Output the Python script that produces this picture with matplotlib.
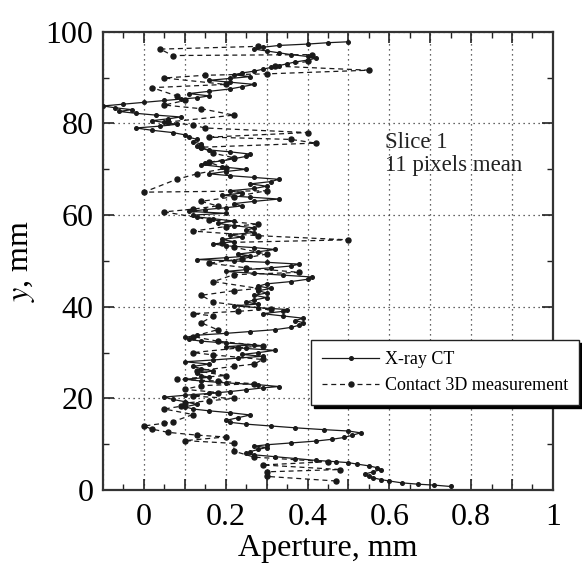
import matplotlib
matplotlib.use("Agg")
import matplotlib.pyplot as plt
from matplotlib.ticker import MultipleLocator, FuncFormatter

plt.rcParams['font.family'] = ['Liberation Serif', 'DejaVu Serif']
plt.rcParams['mathtext.fontset'] = 'stix'

# X-ray CT aperture profile (y in mm, aperture in mm)
ct_y = [0.8, 1.1, 1.3, 1.6, 2.0, 2.3, 2.7, 3.1, 3.5, 4.0, 4.5, 4.9, 5.3, 5.7, 6.0, 6.2, 6.5, 6.9, 7.3, 7.7,
        8.0, 8.4, 8.9, 9.3, 9.6, 9.9, 10.3, 10.7, 11.1, 11.5, 12.0, 12.5, 12.9, 13.2, 13.6, 14.0, 14.4, 14.8, 15.2, 15.8,
        16.4, 16.9, 17.3, 17.7, 18.2, 18.7, 19.3, 19.8, 20.3, 20.7, 21.1, 21.5, 21.9, 22.3, 22.6, 23.0, 23.4, 23.8, 24.2, 24.6,
        25.0, 25.5, 26.0, 26.5, 27.0, 27.5, 28.0, 28.4, 28.8, 29.2, 29.6, 30.0, 30.5, 30.9, 31.3, 31.7, 32.1, 32.5, 32.9, 33.3,
        33.8, 34.2, 34.6, 35.0, 35.5, 36.0, 36.5, 37.0, 37.5, 38.0, 38.5, 39.0, 39.4, 39.8, 40.2, 40.6, 41.0, 41.5, 42.0, 42.5,
        43.0, 43.5, 44.0, 44.5, 45.0, 45.5, 46.0, 46.5, 46.9, 47.3, 47.7, 48.1, 48.5, 48.9, 49.3, 49.7, 50.0, 50.3, 50.7, 51.1,
        51.5, 52.0, 52.5, 52.9, 53.3, 53.7, 54.2, 54.7, 55.2, 55.7, 56.2, 56.7, 57.2, 57.7, 58.2, 58.7, 59.2, 59.6, 60.0, 60.4,
        60.8, 61.2, 61.6, 62.0, 62.5, 63.0, 63.5, 63.9, 64.3, 64.8, 65.3, 65.8, 66.3, 66.8, 67.3, 67.8, 68.2, 68.6, 69.0, 69.5,
        70.0, 70.5, 71.0, 71.4, 71.8, 72.3, 72.8, 73.3, 73.8, 74.2, 74.6, 75.0, 75.5, 76.0, 76.5, 77.0, 77.5, 78.0, 78.5, 79.0,
        79.4, 79.8, 80.2, 80.6, 81.0, 81.4, 81.8, 82.2, 82.6, 83.0, 83.4, 83.8, 84.2, 84.6, 85.0, 85.3, 85.6, 86.0, 86.5, 87.0,
        87.5, 88.0, 88.5, 89.0, 89.4, 89.8, 90.2, 90.6, 91.0, 91.4, 91.8, 92.2, 92.6, 93.0, 93.4, 93.8, 94.2, 94.6, 95.0, 95.4,
        95.8, 96.2, 96.6, 97.0, 97.3, 97.6, 97.8]
ct_ap = [0.75, 0.71, 0.67, 0.63, 0.60, 0.58, 0.56, 0.55, 0.54, 0.56, 0.58, 0.57, 0.55, 0.52, 0.50, 0.47, 0.42, 0.37, 0.32, 0.27,
         0.25, 0.26, 0.28, 0.30, 0.27, 0.30, 0.36, 0.42, 0.46, 0.49, 0.51, 0.53, 0.50, 0.44, 0.37, 0.31, 0.25, 0.21, 0.20, 0.23,
         0.26, 0.21, 0.16, 0.12, 0.10, 0.13, 0.10, 0.07, 0.05, 0.10, 0.16, 0.21, 0.25, 0.29, 0.33, 0.28, 0.20, 0.14, 0.10, 0.16,
         0.14, 0.13, 0.17, 0.14, 0.12, 0.16, 0.10, 0.17, 0.23, 0.29, 0.24, 0.28, 0.32, 0.25, 0.20, 0.27, 0.20, 0.14, 0.11, 0.10,
         0.13, 0.20, 0.26, 0.32, 0.36, 0.38, 0.39, 0.37, 0.39, 0.34, 0.29, 0.34, 0.35, 0.28, 0.22, 0.28, 0.25, 0.27, 0.30, 0.27,
         0.30, 0.28, 0.31, 0.28, 0.30, 0.36, 0.40, 0.41, 0.34, 0.27, 0.20, 0.25, 0.31, 0.36, 0.38, 0.30, 0.22, 0.13, 0.20, 0.26,
         0.23, 0.28, 0.32, 0.27, 0.20, 0.17, 0.22, 0.19, 0.24, 0.21, 0.27, 0.25, 0.27, 0.22, 0.18, 0.22, 0.17, 0.13, 0.12, 0.20,
         0.11, 0.15, 0.20, 0.24, 0.22, 0.27, 0.33, 0.26, 0.19, 0.24, 0.21, 0.27, 0.30, 0.26, 0.31, 0.33, 0.27, 0.21, 0.16, 0.20,
         0.25, 0.19, 0.14, 0.15, 0.19, 0.22, 0.25, 0.26, 0.21, 0.16, 0.14, 0.13, 0.14, 0.12, 0.13, 0.11, 0.10, 0.07, 0.02, -0.02,
         0.04, 0.08, 0.05, 0.02, 0.06, 0.09, 0.03, -0.02, -0.06, -0.03, -0.07, -0.10, -0.05, 0.00, 0.05, 0.09, 0.13, 0.16, 0.11, 0.16,
         0.21, 0.24, 0.27, 0.21, 0.16, 0.21, 0.26, 0.22, 0.24, 0.27, 0.29, 0.31, 0.33, 0.35, 0.37, 0.40, 0.42, 0.40, 0.36, 0.33,
         0.30, 0.27, 0.29, 0.33, 0.40, 0.45, 0.50]

# Contact 3D measurement profile
c3d_y = [2.0, 3.0, 4.0, 4.5, 5.5, 6.2, 7.2, 8.5, 10.2, 10.8, 11.6, 12.0, 12.6, 13.3, 14.0, 14.6, 14.9, 16.5, 17.7, 18.3,
         19.0, 19.5, 20.0, 20.5, 21.3, 22.0, 22.8, 23.2, 23.8, 24.2, 25.0, 26.0, 27.0, 27.5, 28.5, 29.5, 30.0, 31.0, 31.5, 32.5,
         33.5, 35.0, 36.5, 38.0, 38.5, 39.0, 39.5, 41.0, 42.5, 43.5, 44.0, 45.5, 47.0, 47.5, 48.5, 49.5, 50.5, 51.5, 53.0, 54.0,
         54.6, 55.5, 56.5, 57.5, 58.0, 59.0, 60.7, 61.3, 62.0, 63.0, 64.0, 65.3, 65.0, 67.8, 69.0, 70.2, 71.5, 72.5, 73.5, 74.8,
         75.7, 76.5, 77.0, 78.0, 79.0, 79.6, 80.3, 81.8, 83.2, 84.0, 85.0, 86.0, 87.8, 88.5, 89.9, 90.5, 90.8, 91.6, 92.5, 93.5,
         95.0, 94.8, 96.2, 96.8]
c3d_ap = [0.47, 0.30, 0.30, 0.48, 0.29, 0.45, 0.27, 0.22, 0.22, 0.10, 0.20, 0.13, 0.06, 0.02, 0.00, 0.05, 0.07, 0.12, 0.05, 0.09,
          0.10, 0.16, 0.22, 0.12, 0.18, 0.10, 0.14, 0.27, 0.18, 0.08, 0.20, 0.13, 0.22, 0.27, 0.29, 0.17, 0.12, 0.23, 0.29, 0.18,
          0.12, 0.18, 0.14, 0.17, 0.12, 0.23, 0.31, 0.17, 0.14, 0.22, 0.28, 0.17, 0.22, 0.38, 0.25, 0.16, 0.24, 0.30, 0.22, 0.19,
          0.50, 0.28, 0.12, 0.20, 0.28, 0.16, 0.05, 0.12, 0.18, 0.14, 0.22, 0.30, 0.00, 0.08, 0.13, 0.20, 0.16, 0.22, 0.17, 0.14,
          0.42, 0.36, 0.16, 0.40, 0.15, 0.12, 0.06, 0.22, 0.14, 0.05, 0.10, 0.08, 0.02, 0.20, 0.05, 0.15, 0.30, 0.55, 0.32, 0.40,
          0.41, 0.07, 0.04, 0.28]

fig = plt.figure(figsize=(5.82, 5.66), dpi=100)
ax = fig.add_axes([0.177, 0.134, 0.773, 0.810])

ax.plot(ct_ap, ct_y, color='#1a1a1a', lw=0.9, ls='-', marker='o', ms=2.6,
        label='X-ray CT', zorder=3)
ax.plot(c3d_ap, c3d_y, color='#1a1a1a', lw=0.9, ls=(0, (4, 3)), marker='o', ms=3.6,
        label='Contact 3D measurement', zorder=3)

ax.set_xlim(-0.1, 1.0)
ax.set_ylim(0, 100)

ax.xaxis.set_major_locator(MultipleLocator(0.1))
ax.xaxis.set_minor_locator(MultipleLocator(0.05))
ax.xaxis.set_major_formatter(FuncFormatter(
    lambda v, p: ('%g' % round(v, 2)) if abs(round(v * 10) % 2) < 1e-9 else ''))
ax.yaxis.set_major_locator(MultipleLocator(20))
ax.yaxis.set_minor_locator(MultipleLocator(10))

ax.tick_params(which='both', direction='in', top=True, right=True, labelsize=23, color='#222')
ax.tick_params(axis='x', pad=9)
ax.tick_params(axis='y', pad=7)
ax.tick_params(which='major', length=8, width=1.2)
ax.tick_params(which='minor', length=4, width=1.0)
for s in ax.spines.values():
    s.set_linewidth(1.6)
    s.set_color('#333')

ax.grid(True, which='major', color='#333', lw=0.9, ls=(0, (1, 3)))

ax.set_xlabel('Aperture, mm', fontsize=23, labelpad=2)
ax.set_ylabel('$y$, mm', fontsize=23, labelpad=6)

ax.text(0.59, 78.2, 'Slice 1\n11 pixels mean', fontsize=16.5, va='top', ha='left',
        linespacing=1.15, color='#222')

leg = ax.legend(loc='upper left', bbox_to_anchor=(0.462, 0.327), fontsize=13,
                frameon=True, fancybox=False, edgecolor='#222', framealpha=1,
                shadow={'color': 'black', 'alpha': 1.0}, handlelength=3.2,
                borderpad=0.6, labelspacing=0.5, handletextpad=0.3, borderaxespad=0)
leg.get_frame().set_linewidth(1.0)

fig.savefig('out.png', dpi=100)
